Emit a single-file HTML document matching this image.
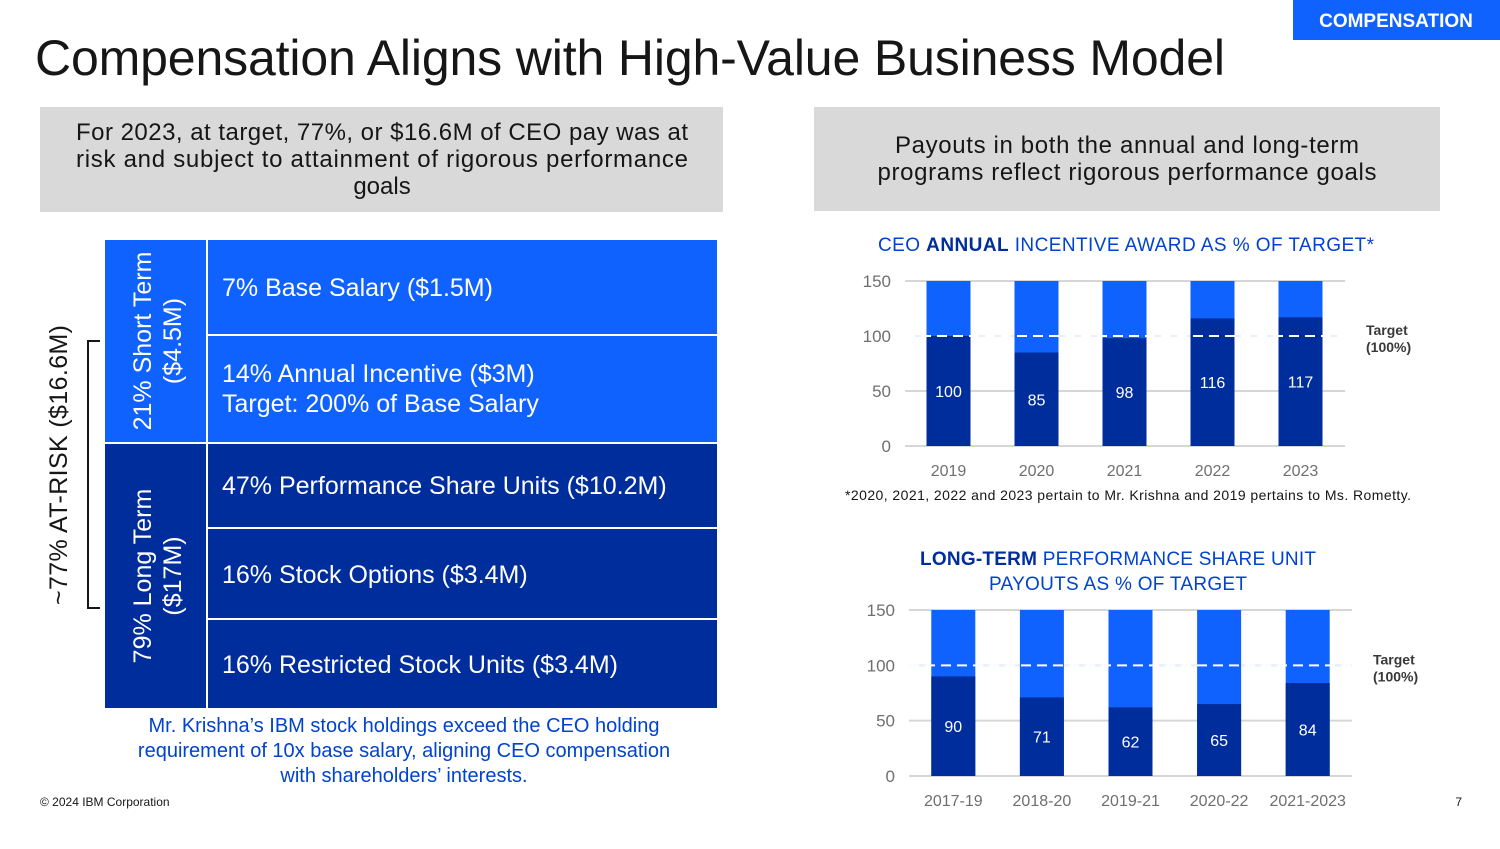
<!DOCTYPE html>
<html><head><meta charset="utf-8"><style>
body{margin:0;background:#fff;font-family:"Liberation Sans",sans-serif}
svg text{font-family:"Liberation Sans",sans-serif}
</style></head><body>
<svg width="1500" height="844" viewBox="0 0 1500 844" xmlns="http://www.w3.org/2000/svg">
<rect x="1293" y="0" width="207" height="40" fill="#0f62fe"/>
<text x="1396" y="27" fill="#fff" font-size="19" font-weight="bold" text-anchor="middle">COMPENSATION</text>
<text x="35" y="75" font-size="50" fill="#161616" textLength="1190" lengthAdjust="spacing">Compensation Aligns with High-Value Business Model</text>
<rect x="40" y="107" width="683" height="105" fill="#d9d9d9"/>
<g font-size="24" fill="#161616" text-anchor="middle">
<text x="382" y="140" textLength="612">For 2023, at target, 77%, or $16.6M of CEO pay was at</text>
<text x="382" y="167" textLength="612">risk and subject to attainment of rigorous performance</text>
<text x="382" y="194">goals</text></g>
<rect x="814" y="107" width="626" height="104" fill="#d9d9d9"/>
<g font-size="24" fill="#161616" text-anchor="middle">
<text x="1127" y="153" textLength="464">Payouts in both the annual and long-term</text>
<text x="1127" y="180" textLength="499">programs reflect rigorous performance goals</text></g>

<g>
<rect x="105" y="240" width="612" height="203" fill="#0f62fe"/>
<rect x="105" y="443" width="612" height="265" fill="#002d9c"/>
<g stroke="#fff" stroke-width="2">
<line x1="207" y1="240" x2="207" y2="708"/>
<line x1="105" y1="443" x2="717" y2="443"/>
<line x1="207" y1="335" x2="717" y2="335"/>
<line x1="207" y1="528" x2="717" y2="528"/>
<line x1="207" y1="619" x2="717" y2="619"/>
</g>
<g fill="#fff" font-size="25">
<text x="222" y="296">7% Base Salary ($1.5M)</text>
<text x="222" y="382">14% Annual Incentive ($3M)</text>
<text x="222" y="412">Target: 200% of Base Salary</text>
<text x="222" y="494">47% Performance Share Units ($10.2M)</text>
<text x="222" y="583">16% Stock Options ($3.4M)</text>
<text x="222" y="673">16% Restricted Stock Units ($3.4M)</text>
<text transform="translate(151,341) rotate(-90)" text-anchor="middle" font-size="25">21% Short Term</text>
<text transform="translate(181,341) rotate(-90)" text-anchor="middle" font-size="25">($4.5M)</text>
<text transform="translate(151,576) rotate(-90)" text-anchor="middle" font-size="25">79% Long Term</text>
<text transform="translate(181,576) rotate(-90)" text-anchor="middle" font-size="25">($17M)</text>
</g></g>
<path d="M100 341 H88 V608 H100" fill="none" stroke="#161616" stroke-width="2"/>
<text transform="translate(67,465) rotate(-90)" text-anchor="middle" font-size="25" textLength="280" fill="#161616">~77% AT-RISK ($16.6M)</text>
<g font-size="20" fill="#0043ce" text-anchor="middle">
<text x="404" y="732">Mr. Krishna’s IBM stock holdings exceed the CEO holding</text>
<text x="404" y="757">requirement of 10x base salary, aligning CEO compensation</text>
<text x="404" y="782">with shareholders’ interests.</text></g>
<text x="40" y="806" font-size="12" fill="#161616">© 2024 IBM Corporation</text>
<text x="1462" y="806" font-size="12" fill="#161616" text-anchor="end">7</text>

<text x="1126" y="251" font-size="19" fill="#0043ce" text-anchor="middle" textLength="496">CEO <tspan font-weight="bold" fill="#002d9c">ANNUAL</tspan> INCENTIVE AWARD AS % OF TARGET*</text>
<g id="c1"></g>
<text x="1128" y="500" font-size="14" fill="#161616" text-anchor="middle" textLength="566">*2020, 2021, 2022 and 2023 pertain to Mr. Krishna and 2019 pertains to Ms. Rometty.</text>
<g font-size="19" fill="#0043ce" text-anchor="middle">
<text x="1118" y="565" textLength="396"><tspan font-weight="bold" fill="#002d9c">LONG-TERM</tspan> PERFORMANCE SHARE UNIT</text>
<text x="1118" y="590" textLength="258">PAYOUTS AS % OF TARGET</text></g>
<g id="c2"></g>
</svg>
<script>
const c1Categories=["2019","2020","2021","2022","2023"];
const c1Values=[100,85,98,116,117];
const c2Categories=["2017-19","2018-20","2019-21","2020-22","2021-2023"];
const c2Values=[90,71,62,65,84];
const yTicks=[0,50,100,150];
const yMax=150, target=100;
const NS="http://www.w3.org/2000/svg";
function mk(p,t,a,txt){const e=document.createElementNS(NS,t);for(const k in a)e.setAttribute(k,a[k]);if(txt!=null)e.textContent=txt;p.appendChild(e);return e;}
function draw(id,cats,vals,o){
 const g=document.getElementById(id);
 const y=v=>o.y0-(o.y0-o.y1)*v/yMax;
 const step=(o.x1-o.x0)/cats.length;
 const x=i=>o.x0+step*(i+0.5)+o.shift;
 yTicks.forEach(t=>{
  const l=mk(g,'line',{x1:o.x0,x2:o.x1,y1:y(t),y2:y(t),stroke:'#d6d6d6','stroke-width':2});
  
  
  const tx=mk(g,'text',{x:o.x0-14,y:y(t)+6,'font-size':17,fill:'#6f6f6f','text-anchor':'end'},t);
  
  
 });
 const tb=mk(g,'line',{x1:o.x0,x2:o.x1,y1:y(target),y2:y(target),stroke:'#e5f0ff','stroke-width':2});
 
 
 cats.forEach((c,i)=>{
  const bg=mk(g,'rect',{x:x(i)-22,y:y(yMax),width:44,height:y(0)-y(yMax),fill:'#0f62fe'});
  
  
  const b=mk(g,'rect',{x:x(i)-22,y:y(vals[i]),width:44,height:y(0)-y(vals[i]),fill:'#002d9c'});
  
  
  const vl=mk(g,'text',{x:x(i),y:y(vals[i]/2)+6,'font-size':16,fill:'#fff','text-anchor':'middle'},vals[i]);
  
  
  const cl=mk(g,'text',{x:x(i),y:o.y0+30,'font-size':16,fill:'#6f6f6f','text-anchor':'middle'},c);
  
  
 });
 const tl=mk(g,'line',{x1:o.x0,x2:o.x1,y1:y(target),y2:y(target),stroke:'#fff','stroke-width':2,'stroke-dasharray':'10,6'});
 
 
 const t1=mk(g,'text',{x:o.x1+21,y:y(target)-1,'font-size':14,'font-weight':'bold',fill:'#393939'},'Target');
 
 
 const t2=mk(g,'text',{x:o.x1+21,y:y(target)+16,'font-size':14,'font-weight':'bold',fill:'#393939'},'(100%)');
 
 
}
draw('c1',c1Categories,c1Values,{x0:905,x1:1345,y0:446,y1:281,shift:-0.5});
draw('c2',c2Categories,c2Values,{x0:909,x1:1352,y0:776,y1:610,shift:0});
</script>
</body></html>
